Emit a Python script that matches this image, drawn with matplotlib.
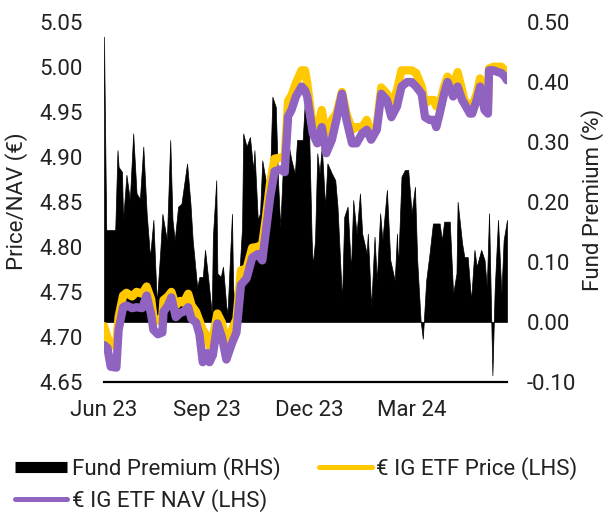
import numpy as np
import matplotlib
matplotlib.use("Agg")
import matplotlib.pyplot as plt
from matplotlib.lines import Line2D
from matplotlib.ticker import MultipleLocator, FormatStrFormatter

# Days are counted from 1 Jun 2023
START = np.datetime64("2023-06-01")

# Price / NAV (LHS, EUR)
line_days = [0, 3, 6, 11, 13, 17, 20, 25, 29, 34,
             38, 42, 44, 48, 52, 53, 57, 60, 64, 68,
             71, 75, 78, 82, 85, 88, 92, 94, 97, 101,
             105, 109, 114, 118, 122, 127, 132, 137, 141, 144,
             148, 152, 157, 161, 164, 167, 171, 176, 179, 181,
             186, 190, 194, 198, 203, 207, 212, 216, 221, 225,
             230, 234, 238, 243, 247, 252, 256, 261, 265, 270,
             274, 278, 283, 286, 290, 294, 296, 299, 303, 306,
             311, 315, 319, 321, 326, 328, 332, 335, 339, 342,
             343, 347, 351, 354, 357, 359]
price = [4.712, 4.700, 4.690, 4.692, 4.722, 4.746, 4.749, 4.745, 4.750, 4.748,
         4.756, 4.742, 4.722, 4.718, 4.722, 4.741, 4.745, 4.750, 4.735, 4.740,
         4.738, 4.748, 4.735, 4.728, 4.718, 4.708, 4.700, 4.690, 4.700, 4.726,
         4.716, 4.692, 4.708, 4.720, 4.774, 4.776, 4.799, 4.800, 4.803, 4.830,
         4.871, 4.898, 4.899, 4.900, 4.962, 4.968, 4.982, 4.996, 4.996, 4.982,
         4.933, 4.930, 4.952, 4.922, 4.941, 4.948, 4.972, 4.948, 4.930, 4.933,
         4.933, 4.941, 4.926, 4.935, 4.977, 4.970, 4.956, 4.974, 4.996, 4.996,
         4.996, 4.993, 4.978, 4.959, 4.963, 4.963, 4.956, 4.959, 4.978, 4.989,
         4.978, 4.994, 4.974, 4.963, 4.956, 4.956, 4.970, 4.987, 4.963, 4.956,
         4.998, 5.000, 5.000, 5.000, 4.996, 4.993]
nav = [4.691, 4.688, 4.667, 4.666, 4.708, 4.733, 4.735, 4.732, 4.733, 4.732,
       4.746, 4.725, 4.708, 4.703, 4.705, 4.728, 4.735, 4.744, 4.722, 4.727,
       4.728, 4.733, 4.720, 4.716, 4.703, 4.672, 4.682, 4.672, 4.680, 4.715,
       4.700, 4.675, 4.693, 4.705, 4.758, 4.765, 4.788, 4.792, 4.785, 4.815,
       4.855, 4.884, 4.886, 4.883, 4.945, 4.952, 4.967, 4.978, 4.974, 4.967,
       4.926, 4.915, 4.933, 4.904, 4.919, 4.941, 4.970, 4.941, 4.915, 4.915,
       4.926, 4.930, 4.919, 4.930, 4.970, 4.963, 4.944, 4.956, 4.978, 4.983,
       4.983, 4.978, 4.970, 4.944, 4.941, 4.941, 4.933, 4.948, 4.970, 4.983,
       4.967, 4.978, 4.963, 4.959, 4.948, 4.948, 4.963, 4.978, 4.952, 4.948,
       4.996, 4.996, 4.994, 4.993, 4.989, 4.985]

# Fund premium (RHS, %)
prem_days = [0, 2, 5, 10, 12, 13, 16, 17, 20, 23,
             26, 29, 32, 35, 38, 41, 44, 47, 50, 52,
             56, 59, 61, 63, 66, 69, 74, 77, 79, 83,
             85, 88, 90, 93, 96, 97, 100, 101, 104, 106,
             109, 110, 114, 115, 117, 119, 123, 124, 127, 130,
             133, 134, 137, 139, 141, 145, 148, 150, 153, 155,
             157, 159, 163, 167, 170, 172, 174, 177, 179, 182,
             185, 186, 188, 190, 192, 194, 197, 199, 203, 206,
             208, 212, 214, 217, 220, 222, 225, 228, 230, 234,
             235, 238, 241, 243, 246, 248, 252, 255, 259, 261,
             262, 265, 268, 271, 274, 277, 279, 282, 284, 287,
             290, 293, 299, 301, 303, 308, 311, 314, 315, 319,
             321, 324, 327, 330, 332, 336, 339, 341, 343, 346,
             348, 351, 354, 356, 359]
premium = [0.475, 0.153, 0.153, 0.153, 0.286, 0.258, 0.250, 0.170, 0.245, 0.203,
           0.314, 0.214, 0.205, 0.292, 0.181, 0.108, 0.170, 0.031, 0.114, 0.180,
           0.136, 0.303, 0.170, 0.136, 0.192, 0.197, 0.264, 0.197, 0.136, 0.058,
           0.075, 0.075, 0.120, 0.069, 0.014, 0.142, 0.236, 0.081, 0.075, 0.092,
           0.025, 0.014, 0.180, 0.058, 0.014, 0.031, 0.158, 0.314, 0.292, 0.308,
           0.253, 0.286, 0.170, 0.181, 0.269, 0.225, 0.247, 0.375, 0.358, 0.236,
           0.158, 0.242, 0.308, 0.269, 0.247, 0.303, 0.303, 0.303, 0.370, 0.375,
           0.136, 0.094, 0.136, 0.281, 0.247, 0.292, 0.192, 0.264, 0.247, 0.236,
           0.192, 0.036, 0.175, 0.192, 0.086, 0.203, 0.147, 0.214, 0.147, 0.114,
           0.147, 0.025, 0.142, 0.069, 0.181, 0.136, 0.220, 0.103, 0.069, 0.147,
           0.092, 0.242, 0.253, 0.253, 0.181, 0.225, 0.103, 0.003, -0.028, 0.069,
           0.114, 0.164, 0.164, 0.136, 0.167, 0.167, 0.047, 0.081, 0.200, 0.131,
           0.108, 0.108, 0.036, 0.120, 0.092, 0.120, 0.103, 0.058, 0.181, -0.089,
           0.053, 0.170, 0.047, 0.136, 0.170]

tick_dates = ["2023-06-01", "2023-09-01", "2023-12-01", "2024-03-01"]
tick_labels = ["Jun 23", "Sep 23", "Dec 23", "Mar 24"]

line_dates = START + np.array(line_days, dtype="timedelta64[D]")
prem_dates = START + np.array(prem_days, dtype="timedelta64[D]")

TEXT = "#222222"
YELLOW = "#FFC800"
PURPLE = "#8F63BF"

plt.rcParams["font.family"] = ["Roboto", "DejaVu Sans"]
plt.rcParams["font.size"] = 16
plt.rcParams["text.color"] = TEXT
plt.rcParams["xtick.labelcolor"] = TEXT
plt.rcParams["ytick.labelcolor"] = TEXT

fig = plt.figure(figsize=(6.03, 5.13), dpi=100)
ax = fig.add_axes([104 / 603, 1 - 382 / 513, 403 / 603, 360.3 / 513])
ax2 = ax.twinx()

# premium area on the base axes (right-hand scale), lines on top
ax.fill_between(prem_dates, 0, premium, facecolor="black", edgecolor="black", lw=0.5)
ax2.plot(line_dates, price, color=YELLOW, lw=6, solid_capstyle="round", solid_joinstyle="round")
ax2.plot(line_dates, nav, color=PURPLE, lw=6, solid_capstyle="round", solid_joinstyle="round")

ax.set_xlim(START, prem_dates[-1])
ax.set_xticks(np.array(tick_dates, dtype="datetime64[D]"))
ax.set_xticklabels(tick_labels)

ax.set_ylim(-0.10, 0.50)
ax.yaxis.set_major_locator(MultipleLocator(0.1))
ax.yaxis.set_major_formatter(FormatStrFormatter("%.2f"))
ax.yaxis.tick_right()

ax2.set_ylim(4.65, 5.05)
ax2.yaxis.set_major_locator(MultipleLocator(0.05))
ax2.yaxis.set_major_formatter(FormatStrFormatter("%.2f"))
ax2.yaxis.tick_left()

ax.tick_params(axis="x", length=0, pad=13)
ax.tick_params(axis="y", length=0, pad=14)
ax2.tick_params(axis="y", length=0, pad=15)

for s in ["top", "left", "right"]:
    ax.spines[s].set_visible(False)
ax.spines["bottom"].set_linewidth(1.6)
ax.spines["bottom"].set_color("black")
for s in ax2.spines.values():
    s.set_visible(False)

fig.text(17 / 603, 1 - 201 / 513, "Price/NAV (€)", rotation=90, ha="center", va="center")
fig.text(593 / 603, 1 - 200 / 513, "Fund Premium (%)", rotation=90, ha="center", va="center")

handles = [
    Line2D([], [], color="black", lw=8, solid_capstyle="butt"),
    Line2D([], [], color=PURPLE, lw=3.6, solid_capstyle="round"),
    Line2D([], [], color=YELLOW, lw=3.6, solid_capstyle="round"),
]
labels = ["Fund Premium (RHS)", "€ IG ETF NAV (LHS)", "€ IG ETF Price (LHS)"]
fig.legend(handles, labels, ncol=2, loc="upper left",
           bbox_to_anchor=(15 / 603, 1 - 457 / 513), frameon=False,
           handlelength=2.35, handletextpad=0.2, columnspacing=1.75,
           labelspacing=0.4, borderpad=0, borderaxespad=0)

fig.savefig("out.png", dpi=100)
